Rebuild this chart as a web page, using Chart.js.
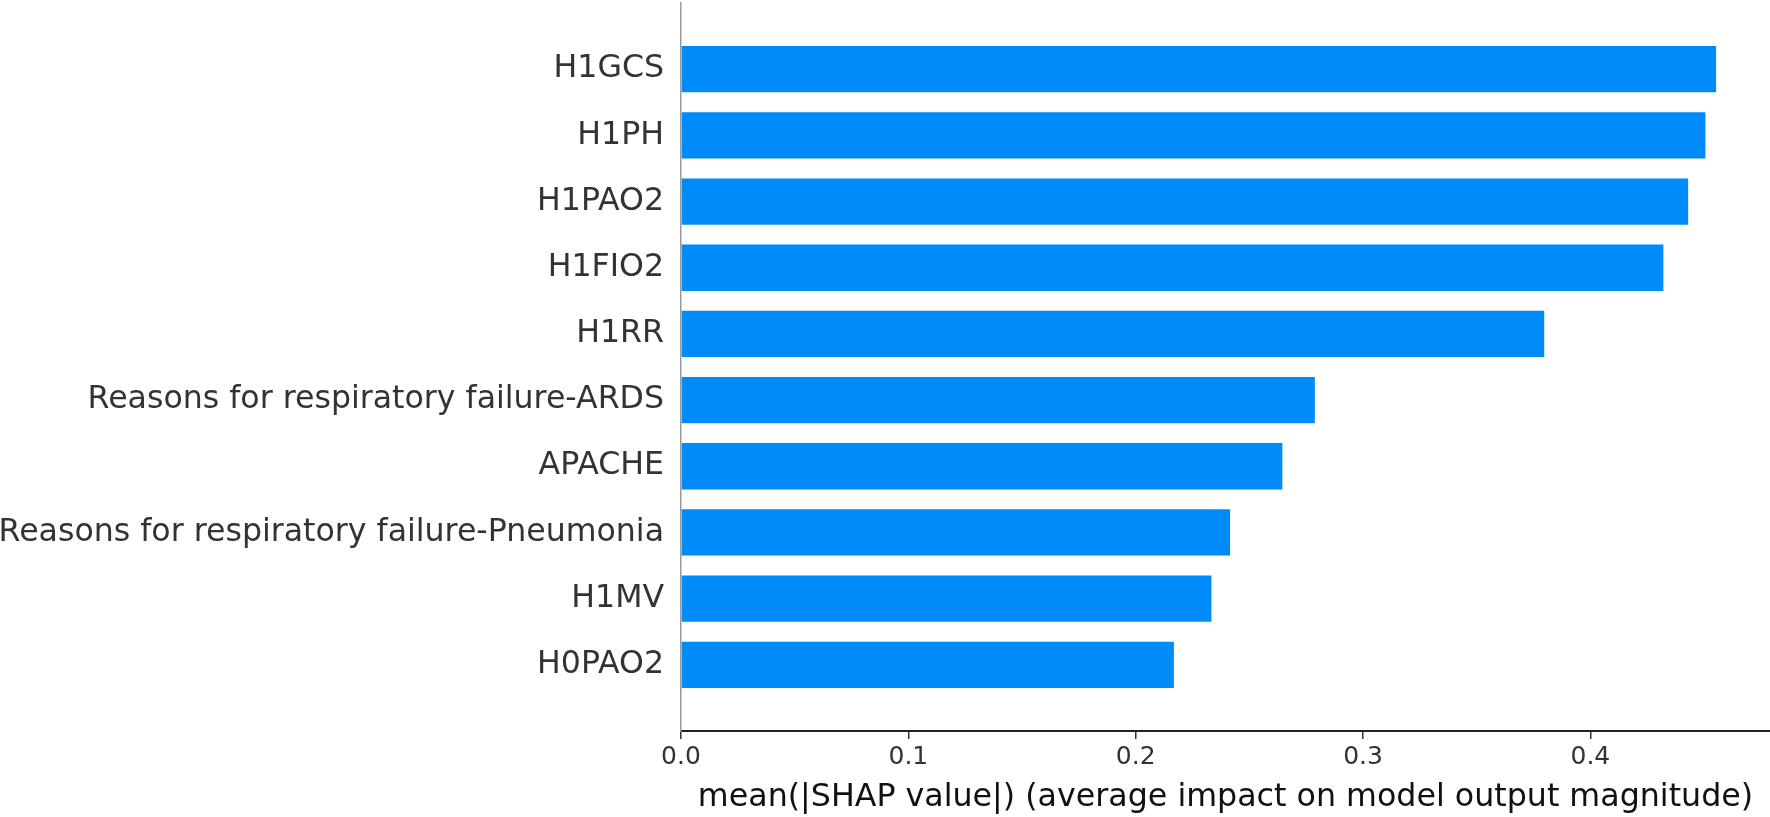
<!DOCTYPE html>
<html>
<head>
<meta charset="utf-8">
<script src="https://cdn.jsdelivr.net/npm/chart.js@4.4.0/dist/chart.umd.min.js"></script>
<style>
  html, body { margin: 0; padding: 0; background: #ffffff; }
  #wrap { width: 1770px; height: 817px; position: relative; }
</style>
</head>
<body>
<div id="wrap"><canvas id="shapChart"></canvas></div>
<script>
// features, top to bottom
const features = [
    "H1GCS", "H1PH", "H1PAO2", "H1FIO2", "H1RR",
    "Reasons for respiratory failure-ARDS", "APACHE",
    "Reasons for respiratory failure-Pneumonia", "H1MV", "H0PAO2"
];
// mean(|SHAP value|)
const shapValues = [
    0.4553, 0.4506, 0.4430, 0.4321, 0.3797,
    0.2788, 0.2645, 0.2415, 0.2333, 0.2168
];
const xTicks = [0.0, 0.1, 0.2, 0.3, 0.4];
const xTitle = "mean(|SHAP value|) (average impact on model output magnitude)";

document.addEventListener('DOMContentLoaded', function () {
    const ctx = document.getElementById('shapChart').getContext('2d');

    // one empty slot above and below, like the matplotlib y limits
    const labels = [''].concat(features, ['']);
    const values = [null].concat(shapValues, [null]);

    const chart = new Chart(ctx, {
        type: 'bar',
        data: {
            labels: labels,
            datasets: [{
                data: values,
                backgroundColor: '#008bfb',
                borderWidth: 0,
                barPercentage: 0.7,
                categoryPercentage: 1.0
            }]
        },
        options: {
            indexAxis: 'y',
            responsive: true,
            maintainAspectRatio: false,
            animation: false,
            layout: {
                padding: { top: 3, right: 0, bottom: 0, left: 0 }
            },
            scales: {
                x: {
                    type: 'linear',
                    min: 0,
                    max: 0.479,
                    afterFit: function (scale) { scale.height = 86; },
                    afterBuildTicks: function (scale) {
                        scale.ticks = xTicks.map(v => ({ value: v }));
                    },
                    grid: {
                        display: true,
                        drawOnChartArea: false,
                        drawTicks: true,
                        tickLength: 8,
                        color: '#333333',
                        lineWidth: 1.5
                    },
                    border: { display: true, color: '#222222', width: 2 },
                    ticks: {
                        includeBounds: false,
                        padding: 3,
                        color: '#333333',
                        font: { family: 'DejaVu Sans', size: 25 },
                        callback: function (v) { return Number(v).toFixed(1); }
                    },
                    title: {
                        display: true,
                        text: xTitle,
                        color: '#111111',
                        font: { family: 'DejaVu Sans', size: 31.7 },
                        padding: { top: 0, bottom: 0 }
                    }
                },
                y: {
                    type: 'category',
                    offset: false,
                    afterFit: function (scale) {
                        scale.width = 681;
                        scale.paddingTop = 0;
                        scale.paddingBottom = 0;
                    },
                    grid: { display: false, drawTicks: false },
                    border: { display: true, color: '#999999', width: 1.5 },
                    ticks: {
                        autoSkip: false,
                        padding: 17,
                        color: '#333333',
                        font: { family: 'DejaVu Sans', size: 31.6 }
                    }
                }
            },
            plugins: {
                legend: { display: false },
                tooltip: { enabled: false }
            }
        }
    });
});
</script>
</body>
</html>
